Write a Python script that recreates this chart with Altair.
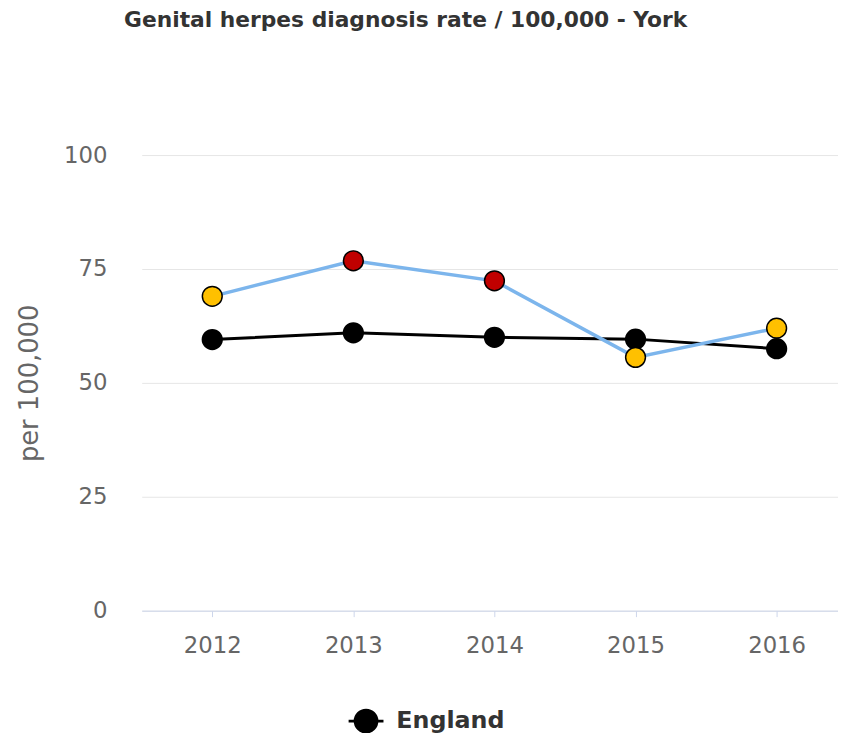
import altair as alt
import pandas as pd

years = [2012, 2013, 2014, 2015, 2016]
york = [69.0, 76.8, 72.4, 55.6, 62.0]
york_colors = ["#FFC000", "#C00000", "#C00000", "#FFC000", "#FFC000"]
england = [59.5, 61.0, 60.0, 59.6, 57.5]

y_ticks = [0, 25, 50, 75, 100]
title_text = "Genital herpes diagnosis rate / 100,000 - York"
y_title = "per 100,000"

df_y = pd.DataFrame({"year": years, "value": york, "fill": york_colors, "series": "York"})
df_e = pd.DataFrame({"year": years, "value": england, "series": "England"})

FONT = "DejaVu Sans"

x_enc = alt.X("year:Q",
              scale=alt.Scale(domain=[2011.5, 2016.435], nice=False, zero=False),
              axis=alt.Axis(values=years, format="d", title=None, grid=False,
                            domainColor="#ccd6eb", tickColor="#ccd6eb", tickSize=6,
                            labelFontSize=23, labelColor="#666666", labelPadding=18,
                            labelFont=FONT))
y_enc = alt.Y("value:Q",
              scale=alt.Scale(domain=[0, 100], nice=False),
              axis=alt.Axis(values=y_ticks, title=y_title, grid=True, gridColor="#e6e6e6",
                            domain=False, ticks=False, labelFontSize=23, labelColor="#666666",
                            labelPadding=35, labelFont=FONT, titleFont=FONT,
                            titleFontSize=26, titleFontWeight="normal", titleColor="#666666",
                            titlePadding=21))

legend_symbol = "M -1.6 0 L 1.6 0 M -1 0 A 1 1 0 1 0 1 0 A 1 1 0 1 0 -1 0 Z"

eng_line = alt.Chart(df_e).mark_line(strokeWidth=3).encode(
    x=x_enc, y=y_enc,
    color=alt.Color("series:N",
                    scale=alt.Scale(domain=["England"], range=["#000000"]),
                    legend=alt.Legend(title=None, orient="none", legendX=214, legendY=559,
                                      symbolType=legend_symbol, symbolSize=484,
                                      symbolStrokeWidth=3, symbolFillColor="#000000",
                                      labelFontSize=24, labelFontWeight="bold",
                                      labelColor="#333333", labelFont=FONT, labelOffset=18)))
eng_pts = alt.Chart(df_e).mark_circle(size=460, opacity=1, color="#000000").encode(x=x_enc, y=y_enc)

york_line = alt.Chart(df_y).mark_line(strokeWidth=3.5, color="#7cb5ec").encode(x=x_enc, y=y_enc)
york_pts = alt.Chart(df_y).mark_point(filled=True, size=400, opacity=1, stroke="#000000",
                                      strokeWidth=1.5, shape="circle").encode(
    x=x_enc, y=y_enc, fill=alt.Fill("fill:N", scale=None))

chart = alt.layer(eng_line, eng_pts, york_line, york_pts).properties(
    width=703, height=460,
    title=alt.TitleParams(title_text, fontSize=22, fontWeight="bold", color="#333333",
                          font=FONT, anchor="middle", dx=-85, offset=113),
    autosize=alt.AutoSizeParams(type="none"),
    padding={"left": 135, "top": 145, "right": 0, "bottom": 120},
).configure_view(stroke=None)

chart.save("out.html", embed_options={"renderer": "svg", "actions": False})
